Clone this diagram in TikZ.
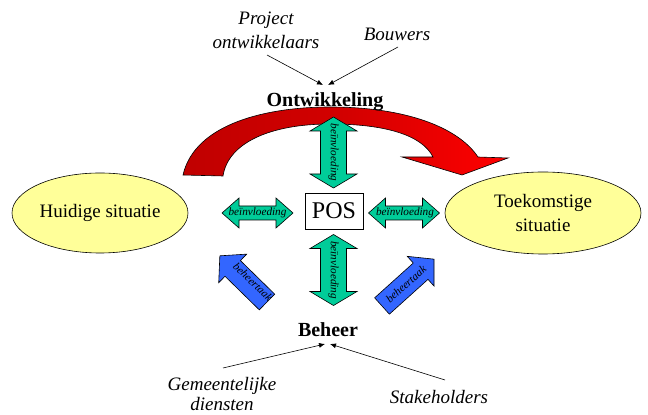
\documentclass[tikz,border=0pt]{standalone}
\usepackage{fontspec}
\setmainfont{Liberation Serif}
\usetikzlibrary{arrows.meta,shapes.geometric}
\definecolor{ellfill}{HTML}{FFFF99}
\definecolor{grfill}{HTML}{00CC99}
\definecolor{blfill}{HTML}{3366FF}
\definecolor{reddark}{HTML}{C00000}
\definecolor{redbright}{HTML}{FF0000}
\newcommand{\dblArrowShape}[5]{% style, L, H, S, h
  \filldraw[#1] (-#2,0) -- (-#2+#5,#3) -- (-#2+#5,#4) -- (#2-#5,#4) -- (#2-#5,#3) -- (#2,0)
    -- (#2-#5,-#3) -- (#2-#5,-#4) -- (-#2+#5,-#4) -- (-#2+#5,-#3) -- cycle;}
\newcommand{\oneArrowShape}[5]{% style, L, H, S, h
  \filldraw[#1] (0,-#4) -- (#2-#5,-#4) -- (#2-#5,-#3) -- (#2,0) -- (#2-#5,#3) -- (#2-#5,#4) -- (0,#4) -- cycle;}
\tikzset{
  ell/.style={ellipse, draw=black, line width=0.6pt, fill=ellfill, align=center,
    font=\fontsize{19}{24}\selectfont, inner sep=0pt},
  grshape/.style={draw=black, line width=0.6pt, fill=grfill, line join=miter},
  blshape/.style={draw=black, line width=0.6pt, fill=blfill, line join=miter},
  arrtext/.style={font=\fontsize{11.2}{12}\selectfont\itshape, inner sep=0pt},
  actor/.style={font=\fontsize{19}{24}\selectfont\itshape, align=center, inner sep=1pt},
  phase/.style={font=\fontsize{20}{22}\selectfont\bfseries, inner sep=1pt},
  feed/.style={line width=0.6pt, -{Latex[length=6pt,width=5pt]}},
}
\begin{document}
\begin{tikzpicture}[x=1pt,y=1pt]
\useasboundingbox (0,0) rectangle (648,415);

% ellipses
\node[ell, minimum width=176, minimum height=80] (huidig) at (100,202) {Huidige situatie};
\node[ell, minimum width=196, minimum height=82] (toekomst) at (543,202) {Toekomstige\\situatie};

% red curved arrow
\path[draw=black, line width=0.6pt, left color=reddark, right color=redbright, middle color=reddark!70!redbright]
  (183,240) .. controls (195,292) and (268,308) .. (330,308)
  .. controls (405,308) and (458,288) .. (478,258)
  -- (508,257) -- (462,240) -- (402,258) -- (433,258)
  .. controls (422,280) and (385,291) .. (330,291)
  .. controls (270,291) and (228,272) .. (223,239) -- cycle;

% POS box
\node[draw=black, line width=0.6pt, fill=white, minimum width=58, minimum height=36,
  font=\fontsize{24}{26}\selectfont, inner sep=0pt] (pos) at (334,204) {POS};

% green double arrows
\begin{scope}[shift={(257.5,202)}]
  \dblArrowShape{grshape}{35.5}{15}{7}{17}
\end{scope}
\node[arrtext] (binl) at (257.5,202) {beïnvloeding};
\begin{scope}[shift={(404,202)}]
  \dblArrowShape{grshape}{35.5}{15}{7}{17}
\end{scope}
\node[arrtext] (binr) at (405,202) {beïnvloeding};
\begin{scope}[shift={(333.5,262.5)}, rotate=90]
  \dblArrowShape{grshape}{35.5}{23.5}{13}{14}
\end{scope}
\node[arrtext, rotate=-90] (bint) at (333.5,262.5) {beïnvloeding};
\begin{scope}[shift={(333.5,145)}, rotate=90]
  \dblArrowShape{grshape}{35.5}{23.5}{13}{14}
\end{scope}
\node[arrtext, rotate=-90] (binb) at (333.5,145) {beïnvloeding};

% blue arrows
\begin{scope}[shift={(267,113)}, rotate=135.6]
  \oneArrowShape{blshape}{66}{20}{11}{18}
\end{scope}
\node[arrtext, rotate=-44] (btl) at (253,133) {beheertaak};
\begin{scope}[shift={(382,109)}, rotate=42]
  \oneArrowShape{blshape}{70}{20}{11}{18}
\end{scope}
\node[arrtext, rotate=42] (btr) at (406,131) {beheertaak};

% phase labels
\node[phase] (ontw) at (325,313) {Ontwikkeling};
\node[phase] (beheer) at (328,85) {Beheer};

% actors
\node[actor] (proj) at (266,385) {Project\\ontwikkelaars};
\node[actor] (bouw) at (397,381) {Bouwers};
\node[actor, font=\fontsize{19}{20}\selectfont\itshape] (gem) at (222,21) {Gemeentelijke\\diensten};
\node[actor] (stake) at (439,18) {Stakeholders};

% connectors
\coordinate (ontwL) at (323,330);
\coordinate (ontwR) at (328,330);
\coordinate (behL) at (325,71);
\coordinate (behR) at (330,71);
\coordinate (projS) at (267,360);
\coordinate (bouwS) at (398,368);
\coordinate (gemN) at (223,47);
\coordinate (stakeN) at (445,35);
\draw[feed] (projS) -- (ontwL);
\draw[feed] (bouwS) -- (ontwR);
\draw[feed] (gemN) -- (behL);
\draw[feed] (stakeN) -- (behR);
\end{tikzpicture}
\end{document}
